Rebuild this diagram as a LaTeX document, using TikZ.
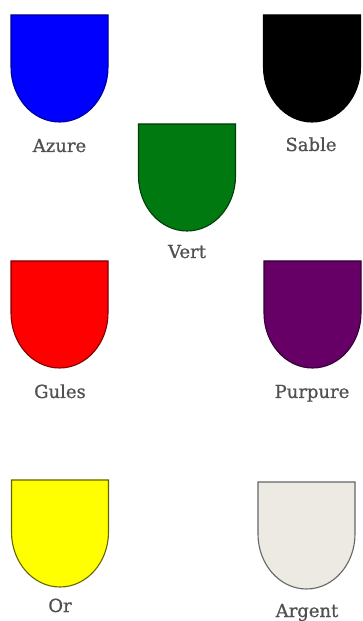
\documentclass[tikz,border=0pt]{standalone}
\usepackage{fontspec}
\setmainfont{DejaVu Serif}
\newfontfamily\lblfont[FakeBold=0.8]{DejaVu Serif}
\begin{document}
\begin{tikzpicture}[x=1pt,y=1pt,
  shield/.pic={\path[pic actions] (-48.5,0) -- (48.5,0) -- (48.5,-52)
     arc[start angle=0,end angle=-180,x radius=48.5,y radius=55] -- cycle;},
  lbl/.style={anchor=base,text=labelgray,font=\lblfont\fontsize{18}{20}\selectfont,inner sep=0pt},
  edge/.style={line width=1.1pt}]
\definecolor{labelgray}{HTML}{505050}
\definecolor{azurec}{HTML}{0000FF}
\definecolor{vertc}{HTML}{007A10}
\definecolor{gulesc}{HTML}{FF0000}
\definecolor{purpurec}{HTML}{660066}
\definecolor{orc}{HTML}{FFFF00}
\definecolor{argentc}{HTML}{ECEAE2}
\useasboundingbox[fill=white] (0,0) rectangle (362,621);
% shields (top centre, y measured upward)
\pic[fill=azurec,draw=azurec!60!black,edge] at (59.5,606) {shield};
\pic[fill=black,draw=black,edge] at (312,606) {shield};
\pic[fill=vertc,draw=vertc!50!black,edge] at (187,497) {shield};
\pic[fill=gulesc,draw=gulesc!50!black,edge] at (59.5,360) {shield};
\pic[fill=purpurec,draw=purpurec!50!black,edge] at (312.5,360) {shield};
\pic[fill=orc,draw=orc!40!black,edge] at (60,141) {shield};
\pic[fill=argentc,draw=black!60,edge] at (306.5,139) {shield};
% labels
\node[lbl] (azure) at (59.5,469) {Azure};
\node[lbl] (sable) at (311,470) {Sable};
\node[lbl] (vert) at (187,363) {Vert};
\node[lbl] (gules) at (60,223) {Gules};
\node[lbl] (purpure) at (312,223) {Purpure};
\node[lbl] (or) at (60,9) {Or};
\node[lbl] (argent) at (307,4) {Argent};
\end{tikzpicture}
\end{document}
